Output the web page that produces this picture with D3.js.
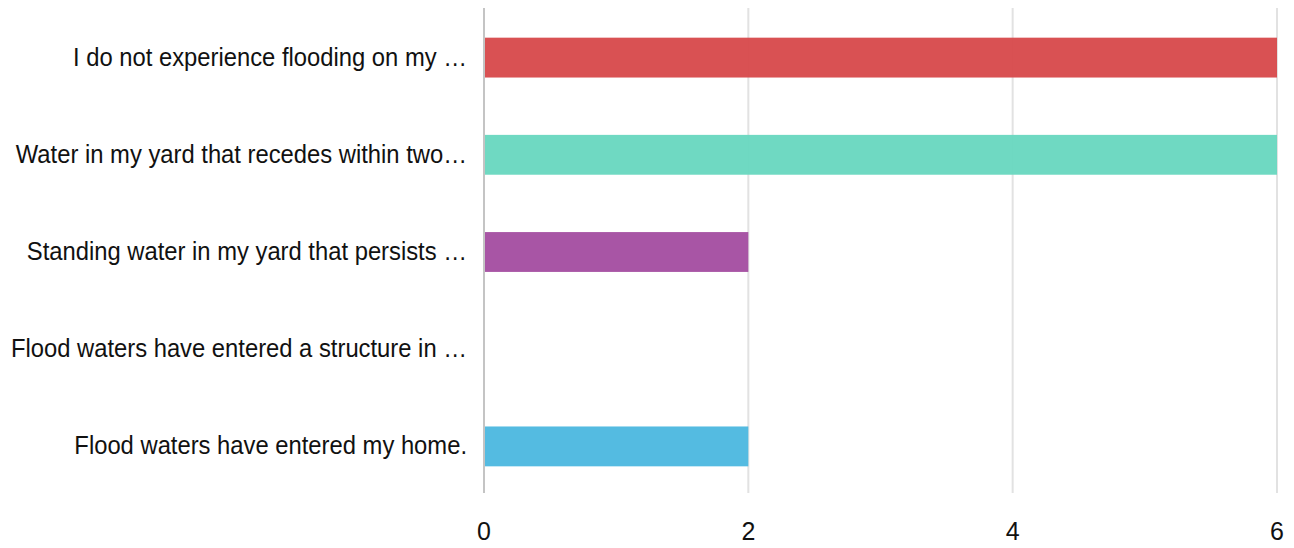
<!DOCTYPE html>
<html><head><meta charset="utf-8">
<script src="https://cdn.jsdelivr.net/npm/d3@7"></script>
<style>body{margin:0;background:#fff}svg{display:block}</style>
</head><body>
<svg id="c" width="1294" height="548"></svg>
<script>
const categories = [
  "I do not experience flooding on my …",
  "Water in my yard that recedes within two…",
  "Standing water in my yard that persists …",
  "Flood waters have entered a structure in …",
  "Flood waters have entered my home."
];
const values = [6, 6, 2, 0, 2];
const colors = ["#d84b4d", "#6ad8c0", "#a54fa2", "#e0a040", "#4eb9e0"];
const tickValues = [0, 2, 4, 6];

const svg = d3.select("#c");
const mLeft = 484, mRight = 1277, mTop = 9, mBottom = 495;
const x = d3.scaleLinear().domain([0, 6]).range([mLeft, mRight]);
const y = d3.scaleBand().domain(categories).range([mTop, mBottom]).paddingInner(0.59).paddingOuter(0.295);

// gridlines
svg.append("g").selectAll("line").data(tickValues).join("line")
  .attr("x1", d => x(d)).attr("x2", d => x(d))
  .attr("y1", 8).attr("y2", 493)
  .attr("stroke", d => d === 0 ? "#c4c4c4" : "#e2e2e2").attr("stroke-width", 2);

svg.append("g").selectAll("rect").data(values).join("rect")
  .attr("x", x(0)+1)
  .attr("y", (d,i) => y(categories[i]))
  .attr("width", d => Math.max(0, x(d) - x(0) - 1))
  .attr("height", y.bandwidth())
  .attr("fill", (d,i) => colors[i])
  .attr("fill-opacity", 0.97);

// category labels (slightly condensed)
svg.append("g").selectAll("g").data(categories).join("g")
  .attr("transform", d => `translate(467,${y(d) + y.bandwidth()/2 + 8}) scale(0.898,1)`)
  .append("text")
  .attr("text-anchor", "end")
  .attr("font-family", "Liberation Sans, Arial, sans-serif")
  .attr("font-size", 26.5)
  .attr("fill", "#111")
  .text(d => d);

// tick labels
svg.append("g").selectAll("text").data(tickValues).join("text")
  .attr("x", d => x(d)).attr("y", 540)
  .attr("text-anchor", "middle")
  .attr("font-family", "Liberation Sans, Arial, sans-serif")
  .attr("font-size", 25)
  .attr("fill", "#111")
  .text(d => d);
</script>
</body></html>
